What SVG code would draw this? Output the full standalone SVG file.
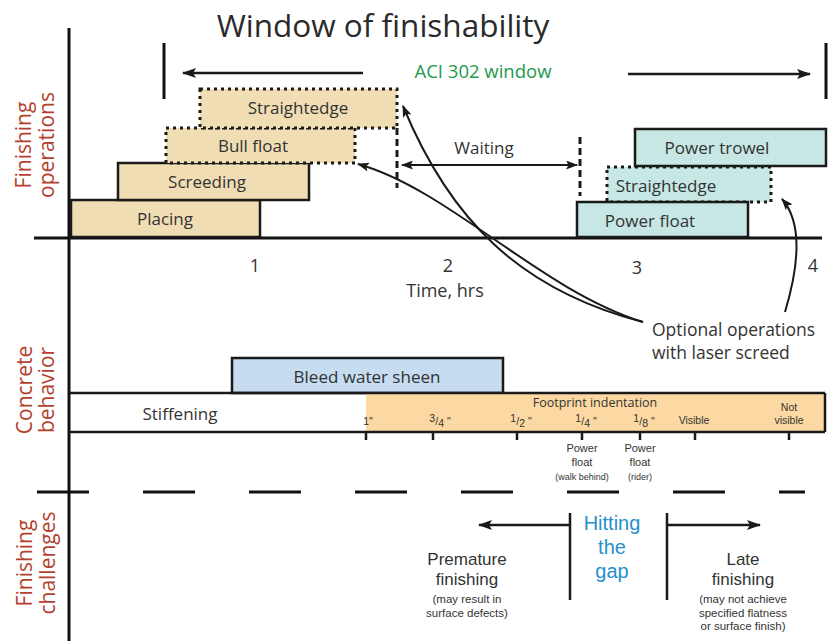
<svg xmlns="http://www.w3.org/2000/svg" width="831" height="641" viewBox="0 0 831 641">
<defs>
<marker id="ah" viewBox="0 0 14 10" refX="13" refY="5" markerWidth="14" markerHeight="10" markerUnits="userSpaceOnUse" orient="auto-start-reverse"><path d="M0,0 L14,5 L0,10 L3,5 Z" fill="#1a1a1a"/></marker>
<marker id="ahs" viewBox="0 0 12 9" refX="11" refY="4.5" markerWidth="12" markerHeight="9" markerUnits="userSpaceOnUse" orient="auto-start-reverse"><path d="M0,0 L12,4.5 L0,9 L2.5,4.5 Z" fill="#1a1a1a"/></marker>
</defs>
<style>
text{font-family:"Open Sans","Noto Sans","Liberation Sans",sans-serif;fill:#333}
.ax{stroke:#111;stroke-width:3;fill:none}
.ln{stroke:#1a1a1a;stroke-width:2;fill:none}
.box{stroke:#1a1a1a;stroke-width:2.5}
.dot{stroke:#1a1a1a;stroke-width:3;stroke-dasharray:3 4}
.tan{fill:#f0ddb3}
.teal{fill:#c6e7e3}
.blue{fill:#c5dcf1}
.org{fill:#fcd9a2}
.lbl{font-size:17px;text-anchor:middle}
.ml{font-family:"Liberation Sans",Arial,sans-serif;font-size:17px;text-anchor:middle}
.gap{font-family:"Liberation Sans",Arial,sans-serif;font-size:20px;text-anchor:middle;fill:#2590c9}
.side{font-size:21px;fill:#b4412f;text-anchor:middle}
.sm{font-family:"Liberation Sans",Arial,sans-serif;font-size:11px;text-anchor:middle}
.cs{font-family:"Liberation Sans",Arial,sans-serif;font-size:11.5px;text-anchor:middle}
.xs{font-family:"Liberation Sans",Arial,sans-serif;font-size:9px;text-anchor:middle}
.fr{font-family:"Liberation Sans",Arial,sans-serif;font-size:10.5px;text-anchor:middle}
.num{font-size:18px;text-anchor:middle;fill:#333}
</style>

<rect width="831" height="641" fill="#fff"/>

<g id="title"><text x="383" y="37" font-size="31.5" text-anchor="middle" style="fill:#2a2a2a">Window of finishability</text></g>

<g id="axes">
<line class="ax" x1="69" y1="28" x2="69" y2="641"/>
<line class="ax" x1="34" y1="238" x2="822" y2="238"/>
</g>

<g id="side-labels">
<text class="side" transform="translate(31,145) rotate(-90)">Finishing</text>
<text class="side" transform="translate(54,145) rotate(-90)">operations</text>
<text class="side" transform="translate(32,390) rotate(-90)">Concrete</text>
<text class="side" transform="translate(54,390) rotate(-90)">behavior</text>
<text class="side" transform="translate(32,563) rotate(-90)">Finishing</text>
<text class="side" transform="translate(55,563) rotate(-90)">challenges</text>
</g>

<g id="aci-window">
<line class="ax" x1="164" y1="43" x2="164" y2="99"/>
<line class="ax" x1="826" y1="43" x2="826" y2="99"/>
<text x="483" y="78" font-size="18.5" text-anchor="middle" style="fill:#1e9a4c">ACI 302 window</text>
</g>

<g id="placing"><rect class="box tan" x="71" y="200" width="189" height="37"/><text class="lbl" x="165" y="225">Placing</text></g>
<g id="screeding"><rect class="box tan" x="118" y="163" width="191" height="37"/><text class="lbl" x="207" y="188">Screeding</text></g>
<g id="bull-float"><rect class="dot tan" x="166" y="128" width="189" height="35"/><text class="lbl" x="253" y="152">Bull float</text></g>
<g id="straightedge1"><rect class="dot tan" x="200" y="89" width="197" height="39"/><text class="lbl" x="298" y="114">Straightedge</text></g>

<g id="straightedge2"><rect class="dot teal" x="607" y="167" width="164" height="35"/><text class="lbl" x="666" y="192">Straightedge</text></g>
<g id="power-float"><rect class="box teal" x="577" y="202" width="171" height="35"/><text class="lbl" x="650" y="227">Power float</text></g>
<g id="power-trowel"><rect class="box teal" x="635" y="129" width="191" height="37"/><text class="lbl" x="717" y="154">Power trowel</text></g>

<g id="waiting">
<line x1="397" y1="128" x2="397" y2="188" stroke="#1a1a1a" stroke-width="3" stroke-dasharray="7 4"/>
<line x1="580" y1="137" x2="580" y2="196" stroke="#1a1a1a" stroke-width="3" stroke-dasharray="7 4"/>
<text class="lbl" x="484" y="154">Waiting</text>
</g>

<g id="time-axis">
<text class="num" x="255" y="272">1</text>
<text class="num" x="448" y="272">2</text>
<text class="num" x="637" y="274">3</text>
<text class="num" x="813" y="272">4</text>
<text class="num" x="445" y="297">Time, hrs</text>
</g>

<g id="optional">
<text x="652" y="336" font-size="17.5">Optional operations</text>
<text x="652" y="359" font-size="17.5">with laser screed</text>
</g>

<g id="bleed"><rect class="box blue" x="232" y="358" width="271" height="35"/><text class="lbl" x="367" y="383">Bleed water sheen</text></g>

<g id="stiffening">
<rect class="org" x="366" y="393" width="459" height="39"/>
<line class="ln" x1="69" y1="393" x2="825" y2="393" style="stroke-width:2.5"/>
<line class="ln" x1="69" y1="432" x2="825" y2="432" style="stroke-width:2.5"/>
<line class="ln" x1="825" y1="393" x2="825" y2="432" style="stroke-width:2.5"/>
<text class="lbl" x="180" y="420">Stiffening</text>
<text x="595" y="407" font-family="Liberation Sans, Arial, sans-serif" font-size="12.5" text-anchor="middle">Footprint indentation</text>
<g class="ln" style="stroke-width:2.5">
<line x1="366" y1="432" x2="366" y2="440"/><line x1="433" y1="432" x2="433" y2="440"/><line x1="517" y1="432" x2="517" y2="440"/><line x1="582" y1="432" x2="582" y2="440"/><line x1="640" y1="432" x2="640" y2="440"/><line x1="695" y1="432" x2="695" y2="440"/><line x1="789" y1="432" x2="789" y2="440"/>
</g>
<text class="fr" x="368" y="425">1"</text>
<text class="fr" x="440" y="425"><tspan dy="-3">3</tspan><tspan dy="3">/</tspan><tspan dy="2">4</tspan><tspan dy="-2"> "</tspan></text>
<text class="fr" x="521" y="425"><tspan dy="-3">1</tspan><tspan dy="3">/</tspan><tspan dy="2">2</tspan><tspan dy="-2"> "</tspan></text>
<text class="fr" x="586" y="425"><tspan dy="-3">1</tspan><tspan dy="3">/</tspan><tspan dy="2">4</tspan><tspan dy="-2"> "</tspan></text>
<text class="fr" x="644" y="425"><tspan dy="-3">1</tspan><tspan dy="3">/</tspan><tspan dy="2">8</tspan><tspan dy="-2"> "</tspan></text>
<text class="fr" x="694" y="424">Visible</text>
<text class="fr" x="789" y="411">Not</text>
<text class="fr" x="789" y="424">visible</text>
<text class="sm" x="582" y="452">Power</text>
<text class="sm" x="582" y="466">float</text>
<text class="xs" x="582" y="480">(walk behind)</text>
<text class="sm" x="640" y="452">Power</text>
<text class="sm" x="640" y="466">float</text>
<text class="xs" x="640" y="480">(rider)</text>
</g>

<g id="divider">
<line x1="37" y1="492" x2="805" y2="492" stroke="#111" stroke-width="3" stroke-dasharray="52 54"/>
</g>

<g id="challenges">
<line class="ln" x1="570" y1="513" x2="570" y2="600" style="stroke-width:2.5"/>
<line class="ln" x1="667" y1="513" x2="667" y2="600" style="stroke-width:2.5"/>
<text class="gap" x="612" y="530">Hitting</text>
<text class="gap" x="612" y="554">the</text>
<text class="gap" x="612" y="578">gap</text>
<text class="ml" x="467" y="565">Premature</text>
<text class="ml" x="467" y="585">finishing</text>
<text class="cs" x="467" y="603">(may result in</text>
<text class="cs" x="467" y="616.5">surface defects)</text>
<text class="ml" x="743" y="565">Late</text>
<text class="ml" x="743" y="585">finishing</text>
<text class="cs" x="743" y="603">(may not achieve</text>
<text class="cs" x="743" y="616.5">specified flatness</text>
<text class="cs" x="743" y="630">or surface finish)</text>
</g>

<g id="connectors">
<line class="ln" x1="363" y1="73" x2="183" y2="73" marker-end="url(#ah)" style="stroke-width:2.5"/>
<line class="ln" x1="628" y1="74" x2="810" y2="74" marker-end="url(#ah)" style="stroke-width:2.5"/>
<line class="ln" x1="402" y1="165" x2="577" y2="165" marker-start="url(#ahs)" marker-end="url(#ahs)"/>
<path class="ln" d="M643,322 C520,290 450,220 403,106" marker-end="url(#ahs)"/>
<path class="ln" d="M643,322 C540,290 450,190 358,164" marker-end="url(#ahs)"/>
<path class="ln" d="M785,312 C800,262 802,222 782,199" marker-end="url(#ahs)"/>
<line class="ln" x1="570" y1="525" x2="479" y2="525" marker-end="url(#ah)" style="stroke-width:2.5"/>
<line class="ln" x1="667" y1="525" x2="760" y2="525" marker-end="url(#ah)" style="stroke-width:2.5"/>
</g>
</svg>
